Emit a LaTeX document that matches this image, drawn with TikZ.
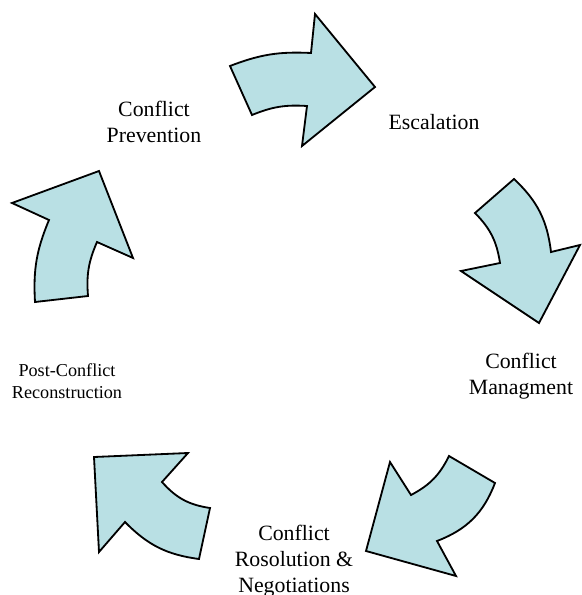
\documentclass[tikz,border=0pt]{standalone}
\usepackage{fontspec}
\setmainfont{Liberation Serif}
\definecolor{arrowfill}{RGB}{185,224,228}
\tikzstyle{cyclearrow}=[draw=black,fill=arrowfill,line width=1pt]
\tikzstyle{stage}=[align=center,inner sep=0pt,font=\fontsize{12}{14.3}\selectfont]
\tikzstyle{smallstage}=[align=center,inner sep=0pt,font=\fontsize{10}{12}\selectfont]

\begin{document}
\begin{tikzpicture}[x=0.55pt,y=-0.55pt]

    \useasboundingbox (0,0) rectangle (581,595);

    % the five curved arrows, outer edge first, then the two bends
    \foreach \a/\b/\c/\d/\e/\f/\g/\bo/\bi in {
        {230,66}/{311,53}/{315,14}/{375,87}/{302,146}/{307,106}/{252,115}/12/13,
        {514,179}/{551,252}/{580,245}/{539,323}/{461,271}/{500,263}/{475,213}/20/18,
        {495,483}/{437,541}/{456,576}/{366,551}/{390,462}/{411,495}/{449,456}/24/18,
        {199,559}/{125,522}/{99,552}/{94,457}/{188,453}/{162,482}/{210,508}/19/20,
        {35,302}/{49,220}/{12,203}/{99,171}/{133,258}/{97,242}/{88,296}/13/14}
        \path[cyclearrow] (\a) to[bend left=\bo] (\b) -- (\c) -- (\d) -- (\e) -- (\f) to[bend right=\bi] (\g) -- cycle;

    % stage labels
    \foreach \x/\y/\name/\txt in {154/122/prevention/{Conflict\\Prevention},
        434/122/escalation/{Escalation},
        521/376/management/{Conflict\\Managment},
        294/561/resolution/{Conflict\\Rosolution \&\\Negotiations}}
        \node[stage] (\name) at (\x,\y) {\txt};

    \node[smallstage] (reconstruction) at (67,381) {Post-Conflict\\Reconstruction};

\end{tikzpicture}
\end{document}
